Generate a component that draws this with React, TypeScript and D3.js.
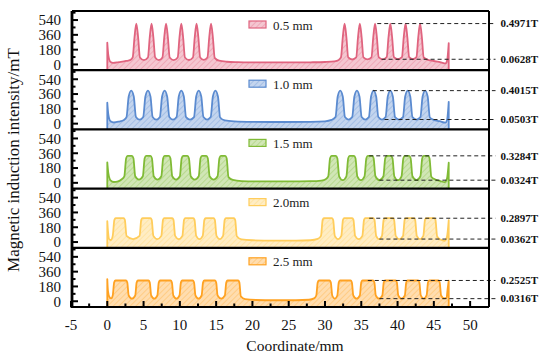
import React from 'react';
import * as d3 from 'd3';

type Pt = [number, number];

// legend names, colours and the marked peak / valley levels (mT and T)
const thickness = ['0.5 mm', '1.0 mm', '1.5 mm', '2.0mm', '2.5 mm'];
const colors = ['#e0647f', '#5b8bd0', '#80bb36', '#ffcd5c', '#ffa222'];
const peakValues = [497.1, 401.5, 328.4, 289.7, 252.5];
const valleyValues = [62.8, 50.3, 32.4, 36.2, 31.6];
const peakLabels = ['0.4971T', '0.4015T', '0.3284T', '0.2897T', '0.2525T'];
const valleyLabels = ['0.0628T', '0.0503T', '0.0324T', '0.0362T', '0.0316T'];
const peakLineStart = [37.2, 36.6, 36.1, 36.1, 35.9];
const valleyLineStart = [37.8, 38.2, 37.5, 37.5, 37.5];

const yTicks = [0, 180, 360, 540];
const yMinorTicks = [90, 270, 450, 630];
const xTicks = [-5, 0, 5, 10, 15, 20, 25, 30, 35, 40, 45, 50];
const xMinorTicks = [-2.5, 2.5, 7.5, 12.5, 17.5, 22.5, 27.5, 32.5, 37.5, 42.5, 47.5];

// magnetic induction (mT) along the coordinate (mm)
const series05: Pt[] = [
  [0, 265], [0.15, 110], [0.4, 35], [0.8, 18], [1.6, 28], [2.6, 42], [3.2, 55],
  [3.5, 85], [3.75, 330], [4.0, 497], [4.25, 330], [4.5, 85], [5.05, 52],
  [5.6, 85], [5.85, 330], [6.1, 497], [6.35, 330], [6.6, 85], [7.1, 52],
  [7.6, 85], [7.85, 330], [8.1, 497], [8.35, 330], [8.6, 85], [9.15, 53],
  [9.7, 85], [9.95, 330], [10.2, 497], [10.45, 330], [10.7, 85], [11.25, 54],
  [11.8, 85], [12.05, 330], [12.3, 497], [12.55, 330], [12.8, 85], [13.3, 55],
  [13.8, 85], [14.05, 330], [14.3, 497], [14.55, 330], [14.8, 80],
  [15.4, 45], [16.5, 33], [18, 28], [20, 25], [22, 24], [25, 24], [28, 26], [30, 30], [31.3, 38], [31.9, 55],
  [32.2, 85], [32.45, 330], [32.7, 497], [32.95, 330], [33.2, 85], [33.75, 60],
  [34.3, 85], [34.55, 330], [34.8, 497], [35.05, 330], [35.3, 85], [35.85, 61],
  [36.4, 85], [36.65, 330], [36.9, 497], [37.15, 330], [37.4, 88], [37.95, 62],
  [38.5, 88], [38.75, 330], [39.0, 497], [39.25, 330], [39.5, 88], [40.05, 63],
  [40.6, 88], [40.85, 330], [41.1, 497], [41.35, 330], [41.6, 88], [42.1, 63],
  [42.6, 88], [42.85, 330], [43.1, 497], [43.35, 330], [43.6, 85],
  [44.2, 55], [45.0, 42], [46.0, 25], [46.6, 12], [46.85, 60], [47.05, 260],
];

const series10: Pt[] = [
  [0, 255], [0.15, 110], [0.45, 28], [0.9, 14], [1.6, 25], [2.3, 45],
  [2.65, 80], [2.95, 330], [3.3, 401], [3.65, 330], [3.95, 80], [4.45, 48],
  [4.95, 80], [5.25, 330], [5.6, 401], [5.95, 330], [6.25, 80], [6.75, 48],
  [7.25, 80], [7.55, 330], [7.9, 401], [8.25, 330], [8.55, 80], [9.05, 49],
  [9.55, 80], [9.85, 330], [10.2, 401], [10.55, 330], [10.85, 80], [11.4, 50],
  [11.95, 80], [12.25, 330], [12.6, 401], [12.95, 330], [13.25, 80], [13.75, 50],
  [14.25, 80], [14.55, 330], [14.9, 401], [15.25, 330], [15.55, 75],
  [16.2, 40], [17.5, 28], [20, 22], [24, 20], [28, 22], [30, 28], [30.9, 45],
  [31.45, 80], [31.75, 330], [32.1, 401], [32.45, 330], [32.75, 80], [33.25, 50],
  [33.75, 80], [34.05, 330], [34.4, 401], [34.75, 330], [35.05, 80], [35.55, 50],
  [36.05, 80], [36.35, 330], [36.7, 401], [37.05, 330], [37.35, 80], [37.85, 50],
  [38.35, 80], [38.65, 330], [39.0, 401], [39.35, 330], [39.65, 80], [40.2, 50],
  [40.75, 80], [41.05, 330], [41.4, 401], [41.75, 330], [42.05, 80], [42.6, 50],
  [43.15, 80], [43.45, 330], [43.8, 401], [44.15, 330], [44.45, 75],
  [45.0, 45], [45.8, 30], [46.6, 12], [46.85, 60], [47.05, 265],
];

const series15: Pt[] = [
  [0, 250], [0.15, 115], [0.45, 30], [0.9, 10], [1.5, 18], [1.95, 40],
  [2.35, 80], [2.6, 300], [2.8, 328], [3.4, 328], [3.6, 300], [3.85, 80], [4.37, 40],
  [4.9, 80], [5.15, 300], [5.35, 328], [5.95, 328], [6.15, 300], [6.4, 80], [6.92, 40],
  [7.45, 80], [7.7, 300], [7.9, 328], [8.5, 328], [8.7, 300], [8.95, 80], [9.47, 40],
  [10.0, 80], [10.25, 300], [10.45, 328], [11.05, 328], [11.25, 300], [11.5, 80], [12.05, 40],
  [12.6, 80], [12.85, 300], [13.05, 328], [13.65, 328], [13.85, 300], [14.1, 80], [14.65, 40],
  [15.2, 80], [15.45, 300], [15.65, 328], [16.25, 328], [16.45, 300], [16.7, 70],
  [17.3, 35], [18.5, 22], [21, 18], [25, 17], [28, 20], [29.5, 28], [30.1, 45],
  [30.45, 80], [30.7, 300], [30.9, 328], [31.5, 328], [31.7, 300], [31.95, 80], [32.45, 33],
  [32.95, 80], [33.2, 300], [33.4, 328], [34.0, 328], [34.2, 300], [34.45, 80], [34.95, 33],
  [35.45, 80], [35.7, 300], [35.9, 328], [36.5, 328], [36.7, 300], [36.95, 80], [37.5, 32],
  [38.05, 80], [38.3, 300], [38.5, 328], [39.1, 328], [39.3, 300], [39.55, 80], [40.05, 32],
  [40.55, 80], [40.8, 300], [41.0, 328], [41.6, 328], [41.8, 300], [42.05, 80], [42.6, 32],
  [43.15, 80], [43.4, 300], [43.6, 328], [44.2, 328], [44.4, 300], [44.65, 75],
  [45.2, 40], [45.9, 22], [46.5, 8], [46.8, 50], [47.05, 245],
];

const series20: Pt[] = [
  [0, 255], [0.12, 110], [0.3, 30], [0.5, 25],
  [0.75, 75], [0.98, 270], [1.15, 290], [2.25, 290], [2.42, 270], [2.65, 75], [3.55, 36],
  [4.45, 75], [4.68, 270], [4.85, 290], [5.95, 290], [6.12, 270], [6.35, 75], [6.9, 36],
  [7.45, 75], [7.68, 270], [7.85, 290], [8.95, 290], [9.12, 270], [9.35, 75], [9.85, 36],
  [10.35, 75], [10.58, 270], [10.75, 290], [11.85, 290], [12.02, 270], [12.25, 75], [12.7, 36],
  [13.15, 75], [13.38, 270], [13.55, 290], [14.65, 290], [14.82, 270], [15.05, 75], [15.5, 36],
  [15.95, 75], [16.18, 270], [16.35, 290], [17.45, 290], [17.62, 270], [17.85, 70],
  [18.5, 32], [20, 22], [23, 18], [26, 18], [28, 22], [29, 38],
  [29.45, 75], [29.68, 270], [29.85, 290], [30.95, 290], [31.12, 270], [31.35, 75], [31.8, 36],
  [32.25, 75], [32.48, 270], [32.65, 290], [33.75, 290], [33.92, 270], [34.15, 75], [34.65, 36],
  [35.15, 75], [35.38, 270], [35.55, 290], [36.65, 290], [36.82, 270], [37.05, 75], [37.45, 36],
  [37.85, 75], [38.08, 270], [38.25, 290], [39.35, 290], [39.52, 270], [39.75, 75], [40.25, 36],
  [40.75, 75], [40.98, 270], [41.15, 290], [42.25, 290], [42.42, 270], [42.65, 75], [43.1, 36],
  [43.55, 75], [43.78, 270], [43.95, 290], [45.05, 290], [45.22, 270], [45.45, 70],
  [45.9, 30], [46.5, 15], [46.8, 60], [47.05, 265],
];

const series25: Pt[] = [
  [0, 270], [0.1, 120], [0.3, 50], [0.55, 35],
  [0.75, 70], [0.95, 230], [1.13, 252], [2.57, 252], [2.75, 230], [2.95, 70], [3.4, 32],
  [3.85, 70], [4.05, 230], [4.23, 252], [5.67, 252], [5.85, 230], [6.05, 70], [6.48, 32],
  [6.9, 70], [7.1, 230], [7.28, 252], [8.72, 252], [8.9, 230], [9.1, 70], [9.53, 32],
  [9.95, 70], [10.15, 230], [10.33, 252], [11.77, 252], [11.95, 230], [12.15, 70], [12.58, 32],
  [13.0, 70], [13.2, 230], [13.38, 252], [14.82, 252], [15.0, 230], [15.2, 70], [15.7, 32],
  [16.2, 70], [16.4, 230], [16.58, 252], [18.02, 252], [18.2, 230], [18.4, 60],
  [19, 25], [20.5, 15], [23, 12], [26, 12], [27.8, 18], [28.5, 35],
  [28.8, 70], [29.0, 230], [29.18, 252], [30.62, 252], [30.8, 230], [31.0, 70], [31.35, 32],
  [31.7, 70], [31.9, 230], [32.08, 252], [33.52, 252], [33.7, 230], [33.9, 70], [34.35, 32],
  [34.8, 70], [35.0, 230], [35.18, 252], [36.62, 252], [36.8, 230], [37.0, 70], [37.45, 32],
  [37.9, 70], [38.1, 230], [38.28, 252], [39.72, 252], [39.9, 230], [40.1, 70], [40.55, 32],
  [41.0, 70], [41.2, 230], [41.38, 252], [42.82, 252], [43.0, 230], [43.2, 70], [43.6, 32],
  [44.0, 70], [44.2, 230], [44.38, 252], [45.62, 252], [45.8, 230], [46.0, 70],
  [46.4, 35], [46.75, 40], [46.9, 150], [47.05, 250],
];

const allSeries = [series05, series10, series15, series20, series25];

const W = 550;
const H = 358;
const left = 72;
const right = 489;
const top = 11;
const panelH = 59.2;
const serif = '"Liberation Serif", "Times New Roman", serif';

export default function App() {
  const x = d3.scaleLinear().domain([-5, 52.6]).range([left - 1, right]);

  return (
    <svg width={W} height={H} style={{ position: 'absolute', left: 0, top: 0, background: '#fff' }}>
      <defs>
        {colors.map((c, i) => (
          <pattern key={i} id={`hatch-${i}`} patternUnits="userSpaceOnUse" width={4} height={4}
            patternTransform="rotate(45)">
            <rect width={4} height={4} fill={c} fillOpacity={0.36} />
            <line x1={0} y1={0} x2={0} y2={4} stroke={c} strokeOpacity={0.5} strokeWidth={1.2} />
          </pattern>
        ))}
      </defs>

      {allSeries.map((data, i) => {
        const pTop = top + i * panelH;
        const y = d3.scaleLinear().domain([-70, 650]).range([pTop + panelH, pTop]);
        const area = d3.area<Pt>()
          .x(d => x(d[0]))
          .y0(y(-70))
          .y1(d => y(d[1]))
          .curve(d3.curveMonotoneX);
        const line = d3.line<Pt>()
          .x(d => x(d[0]))
          .y(d => y(d[1]))
          .curve(d3.curveMonotoneX);
        const first = data[0];
        const last = data[data.length - 1];
        const lineD = `M${x(first[0])},${y(-70)}L` + (line(data) || '').slice(1) + `L${x(last[0])},${y(-70)}`;
        const lineEnd = x(53.5);

        return (
          <g key={i}>
            <path d={area(data) || ''} fill={`url(#hatch-${i})`} />
            <path d={lineD} fill="none" stroke={colors[i]} strokeWidth={1.8} strokeLinejoin="round" />

            {/* peak / valley markers */}
            <line x1={x(peakLineStart[i])} x2={lineEnd} y1={y(peakValues[i])} y2={y(peakValues[i])}
              stroke="#222" strokeWidth={1} strokeDasharray="4,3" />
            <line x1={x(valleyLineStart[i])} x2={lineEnd} y1={y(valleyValues[i])} y2={y(valleyValues[i])}
              stroke="#222" strokeWidth={1} strokeDasharray="4,3" />
            <text x={lineEnd + 5} y={y(peakValues[i])} dy="0.35em" fontFamily={serif} fontWeight="bold"
              fontSize={11} fill="#111">{peakLabels[i]}</text>
            <text x={lineEnd + 5} y={y(valleyValues[i])} dy="0.35em" fontFamily={serif} fontWeight="bold"
              fontSize={11} fill="#111">{valleyLabels[i]}</text>

            {/* legend */}
            <rect x={249} y={pTop + 10} width={17} height={7} fill={`url(#hatch-${i})`}
              stroke={colors[i]} strokeWidth={1.2} />
            <text x={273} y={pTop + 18.5} fontFamily={serif} fontSize={13} fill="#222">{thickness[i]}</text>

            {/* y ticks */}
            {yTicks.map(t => (
              <g key={t}>
                <line x1={left} x2={left + 6} y1={y(t)} y2={y(t)} stroke="#000" strokeWidth={2} />
                <text x={61} y={y(t)} dy="0.36em" textAnchor="end" fontFamily={serif} fontSize={15}
                  fill="#111">{t}</text>
              </g>
            ))}
            {yMinorTicks.map(t => (
              <line key={t} x1={left} x2={left + 3.5} y1={y(t)} y2={y(t)} stroke="#000" strokeWidth={2} />
            ))}

            {/* panel bottom */}
            <line x1={left} x2={right} y1={pTop + panelH} y2={pTop + panelH} stroke="#000" strokeWidth={2.2} />
          </g>
        );
      })}

      {/* frame */}
      <line x1={left} x2={right} y1={top} y2={top} stroke="#000" strokeWidth={2} />
      <line x1={right} x2={right} y1={top} y2={top + 5 * panelH} stroke="#000" strokeWidth={2} />
      <line x1={left} x2={left} y1={top} y2={top + 5 * panelH + 1} stroke="#000" strokeWidth={2.8} />

      {/* x axis */}
      {xTicks.map(t => (
        <g key={t}>
          <line x1={x(t)} x2={x(t)} y1={top + 5 * panelH} y2={top + 5 * panelH - 6} stroke="#000" strokeWidth={2} />
          <text x={x(t)} y={330} textAnchor="middle" fontFamily={serif} fontSize={15} fill="#111">{t}</text>
        </g>
      ))}
      {xMinorTicks.map(t => (
        <line key={t} x1={x(t)} x2={x(t)} y1={top + 5 * panelH} y2={top + 5 * panelH - 3.5} stroke="#000" strokeWidth={2} />
      ))}
      <text x={295} y={351} textAnchor="middle" fontFamily={serif} fontSize={15.5} fill="#111">Coordinate/mm</text>
      <text transform="translate(19,160) rotate(-90)" textAnchor="middle" fontFamily={serif} fontSize={17}
        fill="#111">Magnetic induction intensity/mT</text>
    </svg>
  );
}
